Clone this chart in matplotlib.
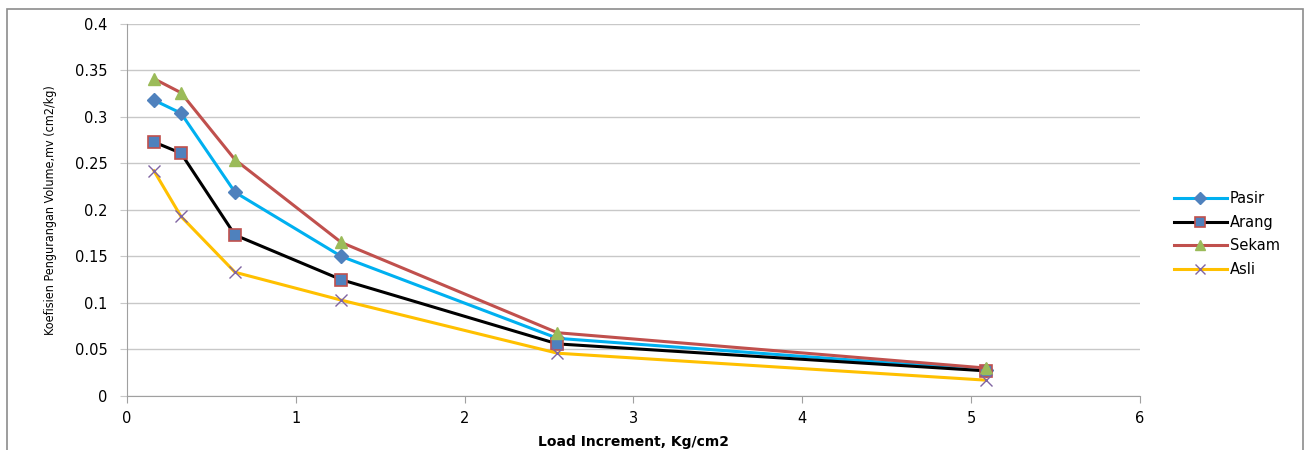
import matplotlib.pyplot as plt
from matplotlib.patches import Rectangle

# Data
load = [0.16, 0.32, 0.64, 1.27, 2.55, 5.09]
pasir = [0.318, 0.304, 0.219, 0.150, 0.062, 0.028]
arang = [0.273, 0.261, 0.173, 0.125, 0.056, 0.027]
sekam = [0.341, 0.326, 0.254, 0.165, 0.068, 0.030]
asli = [0.242, 0.193, 0.133, 0.103, 0.046, 0.017]

xticks = [0, 1, 2, 3, 4, 5, 6]
yticks = [0, 0.05, 0.1, 0.15, 0.2, 0.25, 0.3, 0.35, 0.4]
ytick_labels = ["0", "0.05", "0.1", "0.15", "0.2", "0.25", "0.3", "0.35", "0.4"]

fig = plt.figure(figsize=(13.06, 4.5), dpi=100)
ax = fig.add_axes([0.0972, 0.12, 0.7757, 0.827])

# outer chart frame
fig.patches.append(Rectangle((7 / 1306, -0.01), 1296 / 1306, 0.99, transform=fig.transFigure,
                             fill=False, edgecolor="#8c8c8c", linewidth=1.2))

ax.plot(load, pasir, color="#00B0F0", lw=2.2, marker="D", ms=7,
        mfc="#4F81BD", mec="#4F81BD", label="Pasir", zorder=3)
ax.plot(load, arang, color="black", lw=2.2, marker="s", ms=8.5,
        mfc="#4F81BD", mec="#C0504D", mew=1.2, label="Arang", zorder=3)
ax.plot(load, sekam, color="#C0504D", lw=2.2, marker="^", ms=9,
        mfc="#9BBB59", mec="#9BBB59", label="Sekam", zorder=3)
ax.plot(load, asli, color="#FFC000", lw=2.2, marker="x", ms=9, mew=1.0,
        mec="#8064A2", label="Asli", zorder=3)

ax.set_xlim(0, 6)
ax.set_ylim(0, 0.4)
ax.set_xticks(xticks)
ax.set_yticks(yticks)
ax.set_yticklabels(ytick_labels)
ax.grid(axis="y", color="#c8c8c8", lw=1)
ax.set_axisbelow(True)
for s in ["top", "right"]:
    ax.spines[s].set_visible(False)
for s in ["left", "bottom"]:
    ax.spines[s].set_color("#a0a0a0")
ax.tick_params(axis="x", direction="out", length=5, color="#a0a0a0", labelsize=10.5, labelcolor="black", pad=6)
ax.tick_params(axis="y", direction="out", length=5, color="#c8c8c8", labelsize=10.5, labelcolor="black", pad=9)

ax.set_xlabel("Load Increment, Kg/cm2", fontsize=10, fontweight="bold", labelpad=6)
ax.set_ylabel("Koefisien Pengurangan Volume,mv (cm2/kg)", fontsize=9,
              family="DejaVu Sans", fontstretch="condensed", labelpad=13)

ax.legend(loc="center left", bbox_to_anchor=(0.889, 0.48), bbox_transform=fig.transFigure,
          frameon=False, fontsize=10.5, handlelength=3.6, handletextpad=0.2,
          labelspacing=0.6, markerscale=0.85)

fig.savefig("out.png", dpi=100)
